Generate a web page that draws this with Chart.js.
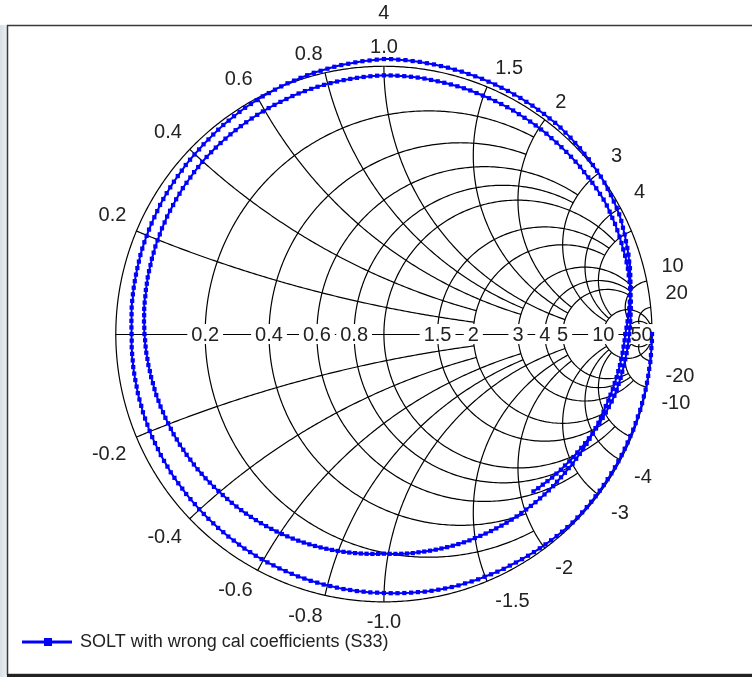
<!DOCTYPE html>
<html>
<head>
<meta charset="utf-8">
<title>Smith chart - S33</title>
<script src="https://cdn.jsdelivr.net/npm/chart.js@4.4.1/dist/chart.umd.min.js"></script>
<style>
  html, body { margin: 0; padding: 0; background: #fff; }
  #wrap { position: relative; width: 752px; height: 677px; overflow: hidden; }
  canvas { display: block; }
</style>
</head>
<body>
<div id="wrap"><canvas id="smith" width="752" height="677"></canvas></div>
<script>
// ---- Data ----
const seriesName = 'SOLT with wrong cal coefficients (S33)';
const topLabel = '4';

// labels written on the real axis (resistance) and round the rim (reactance)
const resistanceTicks = [0.2, 0.4, 0.6, 0.8, 1.5, 2, 3, 4, 5, 10, 50];
const resistanceTickText = ['0.2', '0.4', '0.6', '0.8', '1.5', '2', '3', '4', '5', '10', '50'];
const reactanceTicks = [0.2, 0.4, 0.6, 0.8, 1.0, 1.5, 2, 3, 4, 10, 20];
const reactanceTickText = ['0.2', '0.4', '0.6', '0.8', '1.0', '1.5', '2', '3', '4', '10', '20'];

// grid circles and how far each one is drawn
const resistanceCircles = [0.2, 0.4, 0.6, 0.8, 1, 1.5, 2, 3, 4, 5, 10, 20, 50];
const resistanceReach   = [2, 2, 3, 3, 5, 5, 5, 10, 10, 10, 50, 50, Infinity];   // |x| limit
const reactanceArcs     = [0.2, 0.4, 0.6, 0.8, 1, 1.5, 2, 3, 4, 5, 10, 20, 50];
const reactanceReach    = [2, 2, 3, 3, 5, 5, 5, 10, 10, 10, 50, 50, Infinity];   // r limit

// S33 trace, phase in degrees (unwrapped) and linear magnitude
const phaseDeg = [
  0, -1.5, -3, -4.5, -6, -7.5, -9, -10.5, -12, -13.5, -15, -16.5, -18, -19.5, -21, -22.5, -24, -25.5, -27, -28.5,
  -30, -31.5, -33, -34.5, -36, -37.5, -39, -40.5, -42, -43.5, -45, -46.5, -48, -49.5, -51, -52.5, -54, -55.5, -57, -58.5,
  -60, -61.5, -63, -64.5, -66, -67.5, -69, -70.5, -72, -73.5, -75, -76.5, -78, -79.5, -81, -82.5, -84, -85.5, -87, -88.5,
  -90, -91.5, -93, -94.5, -96, -97.5, -99, -100.5, -102, -103.5, -105, -106.5, -108, -109.5, -111, -112.5, -114, -115.5, -117, -118.5,
  -120, -121.5, -123, -124.5, -126, -127.5, -129, -130.5, -132, -133.5, -135, -136.5, -138, -139.5, -141, -142.5, -144, -145.5, -147, -148.5,
  -150, -151.5, -153, -154.5, -156, -157.5, -159, -160.5, -162, -163.5, -165, -166.5, -168, -169.5, -171, -172.5, -174, -175.5, -177, -178.5,
  -180, -181.5, -183, -184.5, -186, -187.5, -189, -190.5, -192, -193.5, -195, -196.5, -198, -199.5, -201, -202.5, -204, -205.5, -207, -208.5,
  -210, -211.5, -213, -214.5, -216, -217.5, -219, -220.5, -222, -223.5, -225, -226.5, -228, -229.5, -231, -232.5, -234, -235.5, -237, -238.5,
  -240, -241.5, -243, -244.5, -246, -247.5, -249, -250.5, -252, -253.5, -255, -256.5, -258, -259.5, -261, -262.5, -264, -265.5, -267, -268.5,
  -270, -271.5, -273, -274.5, -276, -277.5, -279, -280.5, -282, -283.5, -285, -286.5, -288, -289.5, -291, -292.5, -294, -295.5, -297, -298.5,
  -300, -301.5, -303, -304.5, -306, -307.5, -309, -310.5, -312, -313.5, -315, -316.5, -318, -319.5, -321, -322.5, -324, -325.5, -327, -328.5,
  -330, -331.5, -333, -334.5, -336, -337.5, -339, -340.5, -342, -343.5, -345, -346.5, -348, -349.5, -351, -352.5, -354, -355.5, -357, -358.5,
  -360, -361.5, -363, -364.5, -366, -367.5, -369, -370.5, -372, -373.5, -375, -376.5, -378, -379.5, -381, -382.5, -384, -385.5, -387, -388.5,
  -390, -391.5, -393, -394.5, -396, -397.5, -399, -400.5, -402, -403.5, -405, -406.5, -408, -409.5, -411, -412.5, -414, -415.5, -417, -418.5,
  -420, -421.5, -423, -424.5, -426, -427.5, -429, -430.5, -432, -433.5, -435, -436.5, -438, -439.5, -441, -442.5, -444, -445.5, -447, -448.5,
  -450, -451.5, -453, -454.5, -456, -457.5, -459, -460.5, -462, -463.5, -465, -466.5, -468, -469.5, -471, -472.5, -474, -475.5, -477, -478.5,
  -480, -481.5, -483, -484.5, -486, -487.5, -489, -490.5, -492, -493.5, -495, -496.5, -498, -499.5, -501, -502.5, -504, -505.5, -507, -508.5,
  -510, -511.5, -513, -514.5, -516, -517.5, -519, -520.5, -522, -523.5, -525, -526.5, -528, -529.5, -531, -532.5, -534, -535.5, -537, -538.5,
  -540, -541.5, -543, -544.5, -546, -547.5, -549, -550.5, -552, -553.5, -555, -556.5, -558, -559.5, -561, -562.5, -564, -565.5, -567, -568.5,
  -570, -571.5, -573, -574.5, -576, -577.5, -579, -580.5, -582, -583.5, -585, -586.5, -588, -589.5, -591, -592.5, -594, -595.5, -597, -598.5,
  -600, -601.5, -603, -604.5, -606, -607.5, -609, -610.5, -612, -613.5, -615, -616.5, -618, -619.5, -621, -622.5, -624, -625.5, -627, -628.5,
  -630, -631.5, -633, -634.5, -636, -637.5, -639, -640.5, -642, -643.5, -645, -646.5, -648, -649.5, -651, -652.5, -654, -655.5, -657, -658.5,
  -660, -661.5, -663, -664.5, -666, -667.5, -669, -670.5, -672, -673.5, -675, -676.5, -678, -679.5, -681, -682.5, -684, -685.5, -687, -688.5,
  -690, -691.5, -693, -694.5, -696, -697.5, -699, -700.5, -702, -703.5, -705, -706.5, -708, -709.5, -711, -712.5, -714, -715.5, -717, -718.5,
  -720, -721.5, -723, -724.5, -726, -727.5, -729, -730.5, -732, -733.5, -735, -736.5, -738, -739.5, -741, -742.5, -744, -745.5, -747, -748.5,
  -750, -751.5, -753, -754.5, -756, -757.5, -759, -760.5, -762, -763.5, -765, -766.5
];
const magnitude = [
  1.000, 1.000, 0.999, 0.999, 0.999, 0.998, 0.998, 0.998, 0.998, 0.997, 0.997, 0.997, 0.996, 0.996, 0.996, 0.995, 0.995, 0.995, 0.995, 0.995,
  0.995, 0.995, 0.995, 0.995, 0.995, 0.995, 0.995, 0.995, 0.995, 0.995, 0.995, 0.994, 0.993, 0.992, 0.991, 0.990, 0.989, 0.988, 0.987, 0.986,
  0.985, 0.984, 0.984, 0.983, 0.982, 0.981, 0.981, 0.980, 0.979, 0.979, 0.978, 0.977, 0.976, 0.975, 0.974, 0.972, 0.971, 0.970, 0.969, 0.968,
  0.967, 0.966, 0.966, 0.965, 0.965, 0.964, 0.964, 0.963, 0.962, 0.962, 0.961, 0.961, 0.960, 0.960, 0.959, 0.958, 0.958, 0.957, 0.957, 0.956,
  0.956, 0.955, 0.955, 0.954, 0.953, 0.953, 0.952, 0.952, 0.951, 0.951, 0.950, 0.950, 0.949, 0.949, 0.949, 0.948, 0.948, 0.948, 0.948, 0.947,
  0.947, 0.947, 0.946, 0.946, 0.946, 0.946, 0.945, 0.945, 0.945, 0.944, 0.944, 0.944, 0.943, 0.943, 0.943, 0.943, 0.942, 0.942, 0.942, 0.941,
  0.941, 0.942, 0.943, 0.944, 0.946, 0.947, 0.948, 0.949, 0.950, 0.951, 0.952, 0.953, 0.955, 0.956, 0.957, 0.958, 0.959, 0.960, 0.961, 0.962,
  0.964, 0.965, 0.966, 0.967, 0.968, 0.969, 0.970, 0.972, 0.973, 0.974, 0.975, 0.977, 0.978, 0.980, 0.982, 0.984, 0.985, 0.987, 0.989, 0.991,
  0.992, 0.994, 0.996, 0.997, 0.999, 1.001, 1.003, 1.004, 1.006, 1.008, 1.010, 1.011, 1.013, 1.015, 1.017, 1.018, 1.020, 1.022, 1.023, 1.025,
  1.027, 1.027, 1.026, 1.026, 1.025, 1.025, 1.024, 1.024, 1.023, 1.023, 1.022, 1.022, 1.021, 1.021, 1.021, 1.020, 1.020, 1.019, 1.019, 1.018,
  1.018, 1.017, 1.017, 1.016, 1.016, 1.015, 1.015, 1.014, 1.012, 1.011, 1.009, 1.008, 1.006, 1.005, 1.003, 1.002, 1.000, 0.998, 0.995, 0.993,
  0.990, 0.988, 0.985, 0.981, 0.976, 0.972, 0.967, 0.963, 0.959, 0.954, 0.950, 0.945, 0.940, 0.935, 0.930, 0.925, 0.920, 0.915, 0.910, 0.905,
  0.900, 0.898, 0.895, 0.893, 0.890, 0.888, 0.885, 0.883, 0.880, 0.878, 0.875, 0.873, 0.870, 0.869, 0.867, 0.866, 0.864, 0.863, 0.861, 0.860,
  0.858, 0.857, 0.855, 0.854, 0.852, 0.851, 0.850, 0.849, 0.849, 0.848, 0.847, 0.846, 0.845, 0.844, 0.843, 0.842, 0.842, 0.841, 0.840, 0.839,
  0.838, 0.837, 0.836, 0.835, 0.834, 0.834, 0.833, 0.832, 0.831, 0.830, 0.829, 0.828, 0.827, 0.826, 0.825, 0.825, 0.824, 0.823, 0.822, 0.821,
  0.820, 0.821, 0.822, 0.823, 0.824, 0.825, 0.826, 0.827, 0.828, 0.829, 0.830, 0.831, 0.832, 0.833, 0.834, 0.835, 0.836, 0.837, 0.838, 0.839,
  0.840, 0.841, 0.842, 0.843, 0.844, 0.845, 0.846, 0.847, 0.848, 0.849, 0.850, 0.851, 0.853, 0.854, 0.856, 0.857, 0.859, 0.860, 0.861, 0.863,
  0.864, 0.866, 0.867, 0.869, 0.870, 0.871, 0.873, 0.874, 0.876, 0.877, 0.879, 0.880, 0.881, 0.883, 0.884, 0.886, 0.887, 0.889, 0.890, 0.891,
  0.893, 0.894, 0.896, 0.897, 0.899, 0.900, 0.901, 0.903, 0.904, 0.906, 0.907, 0.908, 0.910, 0.911, 0.913, 0.914, 0.915, 0.917, 0.918, 0.920,
  0.921, 0.922, 0.924, 0.925, 0.927, 0.928, 0.929, 0.931, 0.932, 0.934, 0.935, 0.936, 0.937, 0.938, 0.939, 0.940, 0.941, 0.942, 0.943, 0.944,
  0.945, 0.946, 0.947, 0.948, 0.949, 0.950, 0.952, 0.953, 0.954, 0.955, 0.956, 0.957, 0.958, 0.959, 0.960, 0.961, 0.962, 0.963, 0.964, 0.965,
  0.966, 0.966, 0.966, 0.966, 0.966, 0.966, 0.966, 0.965, 0.965, 0.965, 0.965, 0.965, 0.965, 0.965, 0.964, 0.964, 0.964, 0.964, 0.964, 0.964,
  0.964, 0.963, 0.963, 0.963, 0.963, 0.963, 0.963, 0.962, 0.962, 0.962, 0.962, 0.962, 0.962, 0.962, 0.961, 0.961, 0.961, 0.961, 0.961, 0.961,
  0.960, 0.958, 0.956, 0.955, 0.953, 0.951, 0.949, 0.947, 0.946, 0.944, 0.942, 0.939, 0.937, 0.934, 0.931, 0.929, 0.926, 0.923, 0.920, 0.918,
  0.915, 0.913, 0.910, 0.908, 0.905, 0.903, 0.900, 0.898, 0.895, 0.893, 0.890, 0.886, 0.882, 0.878, 0.874, 0.870, 0.866, 0.862, 0.858, 0.854,
  0.850, 0.846, 0.843, 0.839, 0.835, 0.832, 0.828, 0.825, 0.821, 0.817, 0.814, 0.810
];

// ---- Layout: reflection plane -> canvas (centre 384,334 ; unit radius 271 px) ----
const W = 752, H = 677, CX = 384, CY = 334, RPX = 271;
const LABEL_FONT = '20px "Liberation Sans", Arial, sans-serif';
const LEGEND_FONT = '18px "Liberation Sans", Arial, sans-serif';
const TEXT_COLOR = '#222';

// z = r + jx  ->  reflection coefficient
function gamma(r, x) {
    const den = (r + 1) * (r + 1) + x * x;
    return [(r * r + x * x - 1) / den, (2 * x) / den];
}

const s33Points = magnitude.map((m, i) => {
    const a = phaseDeg[i] * Math.PI / 180;
    return { x: m * Math.cos(a), y: m * Math.sin(a) };
});

const smithGrid = {
    id: 'smithGrid',
    beforeDatasetsDraw(chart) {
        const { ctx, scales } = chart;
        const px = u => scales.x.getPixelForValue(u);
        const py = v => scales.y.getPixelForValue(v);

        ctx.save();
        // window frame
        const g = ctx.createLinearGradient(0, 0, 8, 0);
        g.addColorStop(0, '#d9dfe4');
        g.addColorStop(1, '#eef1f3');
        ctx.fillStyle = g;
        ctx.fillRect(0, 25, 7, H - 25);
        ctx.strokeStyle = '#3a3a3a';
        ctx.lineWidth = 1.5;
        ctx.strokeRect(7.5, 25.5, W + 10, 649);
        ctx.fillStyle = '#222';
        ctx.fillRect(7, 674, W, 3);

        ctx.strokeStyle = '#000';
        ctx.lineWidth = 1.2;

        // arc of a circle given in plane units, sampled from angle a0 to a1
        const arc = (cx, cy, rho, a0, a1) => {
            const n = Math.max(12, Math.ceil(Math.abs(a1 - a0) * rho * 120));
            ctx.beginPath();
            for (let k = 0; k <= n; k++) {
                const a = a0 + (a1 - a0) * k / n;
                const X = px(cx + rho * Math.cos(a)), Y = py(cy + rho * Math.sin(a));
                if (k === 0) ctx.moveTo(X, Y); else ctx.lineTo(X, Y);
            }
            ctx.stroke();
        };

        // outer rim and real axis
        arc(0, 0, 1, 0, 2 * Math.PI);
        ctx.beginPath();
        ctx.moveTo(px(-1), Math.round(py(0)) + 0.5);
        ctx.lineTo(px(1), Math.round(py(0)) + 0.5);
        ctx.stroke();

        // constant resistance circles
        resistanceCircles.forEach((r, i) => {
            const c = r / (r + 1), rho = 1 / (r + 1);
            const lim = resistanceReach[i];
            if (!isFinite(lim)) { arc(c, 0, rho, 0, 2 * Math.PI); return; }
            const p = gamma(r, lim);
            const a1 = Math.atan2(p[1], p[0] - c);
            arc(c, 0, rho, a1, 2 * Math.PI - a1);
        });

        // constant reactance arcs (both signs)
        reactanceArcs.forEach((x, i) => {
            const lim = reactanceReach[i];
            [x, -x].forEach(xx => {
                const cx = 1, cy = 1 / xx, rho = 1 / Math.abs(xx);
                const p0 = gamma(0, xx);
                const p1 = isFinite(lim) ? gamma(lim, xx) : [1, 0];
                const b0 = Math.atan2(p0[1] - cy, p0[0] - cx);
                const b1 = Math.atan2(p1[1] - cy, p1[0] - cx);
                let d = b1 - b0;
                while (d > Math.PI) d -= 2 * Math.PI;
                while (d < -Math.PI) d += 2 * Math.PI;
                arc(cx, cy, rho, b0, b0 + d);
            });
        });

        // labels
        ctx.font = LABEL_FONT;
        ctx.textAlign = 'center';
        ctx.textBaseline = 'middle';

        resistanceTicks.forEach((r, i) => {
            const t = resistanceTickText[i];
            const X = px((r - 1) / (r + 1)), Y = py(0);
            const w = ctx.measureText(t).width;
            ctx.fillStyle = '#fff';
            ctx.fillRect(X - w / 2 - 4, Y - 10, w + 8, 20);
            ctx.fillStyle = TEXT_COLOR;
            ctx.fillText(t, X, Y + 1);
        });

        const ring = (RPX + 11) / RPX;
        reactanceTicks.forEach((x, i) => {
            [1, -1].forEach(sg => {
                const t = (sg < 0 ? '-' : '') + reactanceTickText[i];
                const th = Math.PI - 2 * Math.atan(x * sg);
                const w = ctx.measureText(t).width;
                const c = Math.cos(th), s = Math.sin(th);
                const sx = Math.max(-1, Math.min(1, c / 0.15));
                // labels near the open end are pushed further away from the axis
                const lift = 9 + 5 * (1 - Math.abs(s));
                const X = px(ring * c) + sx * w / 2 + (c > 0.15 ? 4 : 0);
                const Y = py(ring * s) - sg * lift;
                ctx.fillStyle = TEXT_COLOR;
                ctx.fillText(t, X, Y + 1);
            });
        });

        ctx.fillText(topLabel, px(0), 13);
        ctx.restore();
    },
    afterDraw(chart) {
        const { ctx } = chart;
        const ds = chart.data.datasets[0];
        ctx.save();
        ctx.strokeStyle = ds.borderColor;
        ctx.lineWidth = 3;
        ctx.beginPath();
        ctx.moveTo(22, 642);
        ctx.lineTo(72, 642);
        ctx.stroke();
        ctx.fillStyle = ds.borderColor;
        ctx.fillRect(44, 638, 8, 8);
        ctx.font = LEGEND_FONT;
        ctx.textAlign = 'left';
        ctx.textBaseline = 'middle';
        ctx.fillStyle = TEXT_COLOR;
        ctx.fillText(ds.label, 80, 642);
        ctx.restore();
    }
};

new Chart(document.getElementById('smith'), {
    type: 'scatter',
    data: {
        datasets: [{
            label: seriesName,
            data: s33Points,
            showLine: true,
            borderColor: '#0000ff',
            borderWidth: 2,
            pointStyle: 'rect',
            pointRadius: 3,
            pointBorderWidth: 0,
            pointBackgroundColor: '#0000ff',
            tension: 0
        }]
    },
    options: {
        responsive: false,
        animation: false,
        devicePixelRatio: 1,
        layout: { padding: 0 },
        scales: {
            x: { type: 'linear', display: false, min: -CX / RPX, max: (W - CX) / RPX },
            y: { type: 'linear', display: false, min: -(H - CY) / RPX, max: CY / RPX }
        },
        plugins: {
            legend: { display: false },
            tooltip: { enabled: false }
        }
    },
    plugins: [smithGrid]
});
</script>
</body>
</html>
